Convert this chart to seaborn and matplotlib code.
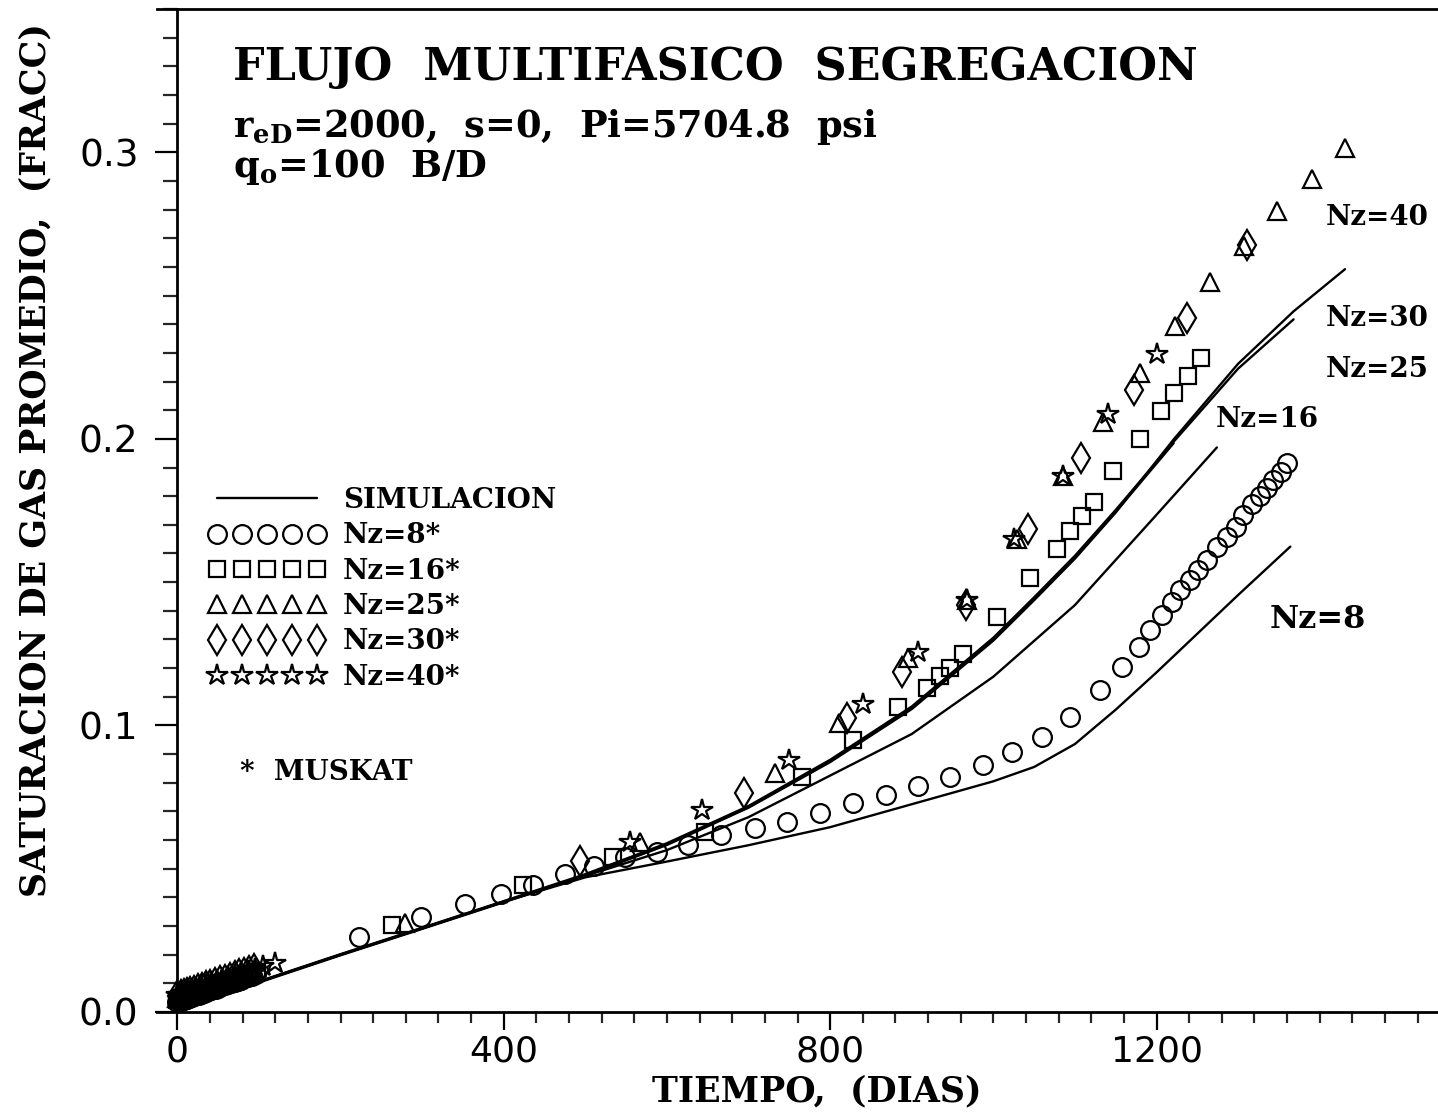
import matplotlib
matplotlib.use("Agg")
import matplotlib.pyplot as plt
from matplotlib.lines import Line2D
from matplotlib.ticker import FormatStrFormatter, MultipleLocator
import seaborn as sns


# simulation curves: tiempo (dias) vs saturacion de gas promedio (fraccion)
SIM_NZ8_DIAS = [0, 100, 200, 300, 400, 500, 600, 700, 800, 900, 1000, 1050, 1100, 1150, 1200, 1250, 1300, 1364]
SIM_NZ8_SAT = [0.0010, 0.0105, 0.0200, 0.0292, 0.0385, 0.0470, 0.0525, 0.0582, 0.0645, 0.0725, 0.0805, 0.0855,
               0.0935, 0.1055, 0.1185, 0.1320, 0.1455, 0.1624]

SIM_NZ16_DIAS = [0, 100, 200, 300, 400, 500, 600, 700, 800, 900, 1000, 1100, 1200, 1274]
SIM_NZ16_SAT = [0.0010, 0.0105, 0.0200, 0.0292, 0.0385, 0.0475, 0.0565, 0.0680, 0.0825, 0.0970, 0.1170, 0.1420,
                0.1735, 0.1970]

SIM_NZ25_DIAS = [0, 100, 200, 300, 400, 500, 600, 700, 800, 900, 1000, 1050, 1100, 1150, 1221]
SIM_NZ25_SAT = [0.0010, 0.0105, 0.0200, 0.0292, 0.0385, 0.0478, 0.0585, 0.0715, 0.0875, 0.1060, 0.1300, 0.1440,
                0.1585, 0.1745, 0.1985]

SIM_NZ30_DIAS = [0, 100, 200, 300, 400, 500, 600, 700, 800, 900, 1000, 1050, 1100, 1150, 1221, 1300, 1368]
SIM_NZ30_SAT = [0.0012, 0.0107, 0.0202, 0.0294, 0.0387, 0.0481, 0.0589, 0.0719, 0.0880, 0.1066, 0.1306, 0.1447,
                0.1592, 0.1752, 0.1990, 0.2245, 0.2417]

SIM_NZ40_DIAS = [0, 100, 200, 300, 400, 500, 600, 700, 800, 900, 1000, 1050, 1100, 1150, 1221, 1300, 1368, 1431]
SIM_NZ40_SAT = [0.0008, 0.0103, 0.0198, 0.0290, 0.0383, 0.0476, 0.0583, 0.0713, 0.0872, 0.1057, 0.1296, 0.1437,
                0.1582, 0.1743, 0.1998, 0.2262, 0.2445, 0.2592]

# Muskat points (dense cluster during the first ~100 days)
NZ8_DIAS = [0, 2, 4, 6, 8, 10, 12, 14, 16, 18, 20, 23, 26, 29, 32, 35, 38, 41, 44, 47, 50, 54, 58, 62, 66, 70,
            74, 78, 82, 87, 92, 96,
            222, 298, 352, 396, 436, 475, 511, 549, 588, 626, 666, 708, 747, 788, 828, 868, 908, 947, 987,
            1023, 1060, 1094, 1131, 1158, 1178, 1192, 1207, 1219, 1229, 1241, 1251, 1262, 1274, 1287, 1297,
            1306, 1317, 1327, 1336, 1343, 1352, 1360]
NZ8_SAT = [0.0035, 0.0037, 0.0039, 0.0041, 0.0043, 0.0045, 0.0047, 0.0049, 0.0051, 0.0053, 0.0055, 0.0058,
           0.0061, 0.0064, 0.0067, 0.0070, 0.0073, 0.0076, 0.0079, 0.0082, 0.0085, 0.0089, 0.0093, 0.0097,
           0.0101, 0.0105, 0.0109, 0.0113, 0.0117, 0.0122, 0.0127, 0.0131,
           0.0262, 0.0332, 0.0377, 0.0412, 0.0444, 0.0480, 0.0509, 0.0542, 0.0559, 0.0583, 0.0618, 0.0643,
           0.0664, 0.0695, 0.0728, 0.0756, 0.0789, 0.0821, 0.0863, 0.0908, 0.0961, 0.1031, 0.1125, 0.1205,
           0.1275, 0.1334, 0.1387, 0.1432, 0.1474, 0.1509, 0.1544, 0.1579, 0.1621, 0.1659, 0.1694, 0.1736,
           0.1771, 0.1799, 0.1830, 0.1858, 0.1886, 0.1917]

NZ16_DIAS = [0, 3, 6, 9, 12, 15, 18, 21, 25, 29, 33, 37, 41, 45, 50, 55, 60, 65, 70, 75, 80, 86, 92, 98,
             263, 424, 534, 647, 766, 828, 883, 919, 935, 947, 963, 1005, 1045, 1078, 1094, 1109, 1123, 1147,
             1180, 1205, 1221, 1238, 1254]
NZ16_SAT = [0.0042, 0.0045, 0.0048, 0.0051, 0.0054, 0.0057, 0.0060, 0.0063, 0.0067, 0.0071, 0.0075, 0.0079,
            0.0083, 0.0087, 0.0092, 0.0097, 0.0102, 0.0107, 0.0112, 0.0117, 0.0122, 0.0128, 0.0134, 0.0140,
            0.0304, 0.0442, 0.0542, 0.0629, 0.0821, 0.0950, 0.1066, 0.1131, 0.1171, 0.1202, 0.1248, 0.1380,
            0.1516, 0.1617, 0.1680, 0.1730, 0.1780, 0.1887, 0.2000, 0.2097, 0.2161, 0.2219, 0.2283]

NZ25_DIAS = [0, 3, 6, 9, 12, 15, 19, 23, 27, 31, 35, 40, 45, 50, 55, 60, 66, 72, 78, 84, 90, 95,
             279, 567, 733, 811, 895, 968, 1029, 1085, 1135, 1180, 1223, 1266, 1307, 1348, 1391, 1431]
NZ25_SAT = [0.0050, 0.0053, 0.0056, 0.0059, 0.0062, 0.0065, 0.0069, 0.0073, 0.0077, 0.0081, 0.0085, 0.0090,
            0.0095, 0.0100, 0.0105, 0.0110, 0.0116, 0.0122, 0.0128, 0.0134, 0.0140, 0.0145,
            0.0311, 0.0594, 0.0834, 0.1009, 0.1235, 0.1439, 0.1650, 0.1870, 0.2060, 0.2230, 0.2393, 0.2546,
            0.2672, 0.2794, 0.2906, 0.3014]

NZ30_DIAS = [0, 4, 8, 12, 16, 20, 25, 30, 35, 40, 46, 52, 58, 64, 70, 76, 82, 88, 94,
             494, 694, 821, 888, 966, 1042, 1107, 1172, 1237, 1311]
NZ30_SAT = [0.0055, 0.0059, 0.0063, 0.0067, 0.0071, 0.0075, 0.0080, 0.0085, 0.0090, 0.0095, 0.0101, 0.0107,
            0.0113, 0.0119, 0.0125, 0.0131, 0.0137, 0.0143, 0.0149,
            0.0528, 0.0765, 0.1027, 0.1188, 0.1420, 0.1684, 0.1932, 0.2172, 0.2420, 0.2675]

NZ40_DIAS = [0, 4, 8, 13, 18, 23, 29, 35, 41, 48, 55, 62, 70, 78, 86, 95, 105, 120,
             555, 643, 749, 840, 908, 968, 1025, 1085, 1141, 1201]
NZ40_SAT = [0.0060, 0.0064, 0.0068, 0.0073, 0.0078, 0.0083, 0.0089, 0.0095, 0.0101, 0.0108, 0.0115, 0.0122,
            0.0129, 0.0136, 0.0143, 0.0151, 0.0160, 0.0171,
            0.0594, 0.0706, 0.0880, 0.1075, 0.1257, 0.1439, 0.1650, 0.1870, 0.2085, 0.2295]

SERIF = "DejaVu Serif"
W, H = 1438, 1115


def marker_style(marker, size):
    return dict(marker=marker, markersize=size, markerfacecolor="none", markeredgecolor="black",
                markeredgewidth=1.6, linestyle="")


MARKERS = {
    "Nz=8*": ("o", 13.5, NZ8_DIAS, NZ8_SAT),
    "Nz=16*": ("s", 11.5, NZ16_DIAS, NZ16_SAT),
    "Nz=25*": ("^", 12.5, NZ25_DIAS, NZ25_SAT),
    "Nz=30*": ("d", 15.0, NZ30_DIAS, NZ30_SAT),
    "Nz=40*": ("*", 16.0, NZ40_DIAS, NZ40_SAT),
}


def main() -> None:
    sns.set_theme(style="ticks")
    plt.rcParams["font.family"] = ["DejaVu Sans"]
    plt.rcParams["text.color"] = "black"
    plt.rcParams["mathtext.fontset"] = "custom"
    plt.rcParams["mathtext.bf"] = "DejaVu Serif:bold"
    plt.rcParams["mathtext.rm"] = "DejaVu Serif:bold"

    fig = plt.figure(figsize=(W / 100, H / 100), dpi=100)
    fig.patch.set_facecolor("white")
    ax = fig.add_axes([157 / W, 103 / H, (W - 157) / W, (1012 - 9) / H])
    ax.set_facecolor("white")

    # simulation lines
    for dias, sat in [(SIM_NZ8_DIAS, SIM_NZ8_SAT), (SIM_NZ16_DIAS, SIM_NZ16_SAT),
                      (SIM_NZ25_DIAS, SIM_NZ25_SAT), (SIM_NZ30_DIAS, SIM_NZ30_SAT),
                      (SIM_NZ40_DIAS, SIM_NZ40_SAT)]:
        sns.lineplot(x=dias, y=sat, ax=ax, color="black", linewidth=1.7, estimator=None, sort=False)

    # muskat points
    for marker, size, dias, sat in MARKERS.values():
        sns.lineplot(x=dias, y=sat, ax=ax, color="black", estimator=None, sort=False,
                     **marker_style(marker, size))

    ax.set_xlim(-25, 1545)
    ax.set_ylim(0, 0.35)
    ax.spines["left"].set_position(("data", 0))
    ax.spines["right"].set_visible(False)
    for side in ["left", "bottom", "top"]:
        ax.spines[side].set_linewidth(2)
        ax.spines[side].set_color("black")

    ax.xaxis.set_major_locator(MultipleLocator(400))
    ax.xaxis.set_minor_locator(MultipleLocator(40))
    ax.yaxis.set_major_locator(MultipleLocator(0.1))
    ax.yaxis.set_minor_locator(MultipleLocator(0.01))
    ax.yaxis.set_major_formatter(FormatStrFormatter("%.1f"))
    ax.tick_params(axis="x", which="major", direction="out", length=13, width=1.6, pad=3,
                   labelsize=26, colors="black")
    ax.tick_params(axis="x", which="minor", direction="out", length=8, width=1.6)
    ax.tick_params(axis="y", which="major", direction="out", length=16, width=1.6, pad=12,
                   labelsize=27, colors="black")
    ax.tick_params(axis="y", which="minor", direction="out", length=10, width=1.6)
    ax.set_xlabel("")
    ax.set_ylabel("")

    # titles
    bold = dict(family=SERIF, fontweight="bold", color="black")
    fig.text(233 / W, 1 - 80 / H, "FLUJO  MULTIFASICO  SEGREGACION", fontsize=32, va="baseline", **bold)
    fig.text(233 / W, 1 - 137 / H, r"r$_{\mathbf{eD}}$=2000,  s=0,  Pi=5704.8  psi", fontsize=26.5,
             va="baseline", **bold)
    fig.text(233 / W, 1 - 177 / H, r"q$_{\mathbf{o}}$=100  B/D", fontsize=26.5, va="baseline", **bold)
    fig.text(817 / W, 1 - 1091 / H, "TIEMPO,  (DIAS)", fontsize=25, ha="center", va="center", **bold)
    fig.text(35 / W, 1 - 460 / H, "SATURACION DE GAS PROMEDIO,  (FRACC)", fontsize=25, rotation=90,
             ha="center", va="center", **bold)

    # curve labels
    ax.text(1407, 0.2773, "Nz=40", fontsize=20, va="center", **bold)
    ax.text(1407, 0.2420, "Nz=30", fontsize=20, va="center", **bold)
    ax.text(1407, 0.2242, "Nz=25", fontsize=20, va="center", **bold)
    ax.text(1272, 0.2068, "Nz=16", fontsize=20, va="center", **bold)
    ax.text(1339, 0.1369, "Nz=8", fontsize=23, va="center", **bold)

    # legend
    handles = [Line2D([], [], color="black", linewidth=1.7, label="SIMULACION")]
    for label, (marker, size, _, _) in MARKERS.items():
        handles.append(Line2D([], [], color="black", label=label, **marker_style(marker, size)))
    leg = ax.legend(handles=handles, loc="upper left", bbox_to_anchor=(209 / W, 1 - 487 / H),
                    bbox_transform=fig.transFigure, frameon=False, numpoints=5, handlelength=4.2,
                    handletextpad=0.62, labelspacing=0.3, borderpad=0, borderaxespad=0,
                    prop=dict(family=SERIF, weight="bold", size=20))
    for txt in leg.get_texts():
        txt.set_color("black")
    fig.text(240 / W, 1 - 773 / H, "*  MUSKAT", fontsize=20, va="center", **bold)

    fig.savefig("out.png", dpi=100, facecolor="white")
    plt.close(fig)


if __name__ == "__main__":
    main()
